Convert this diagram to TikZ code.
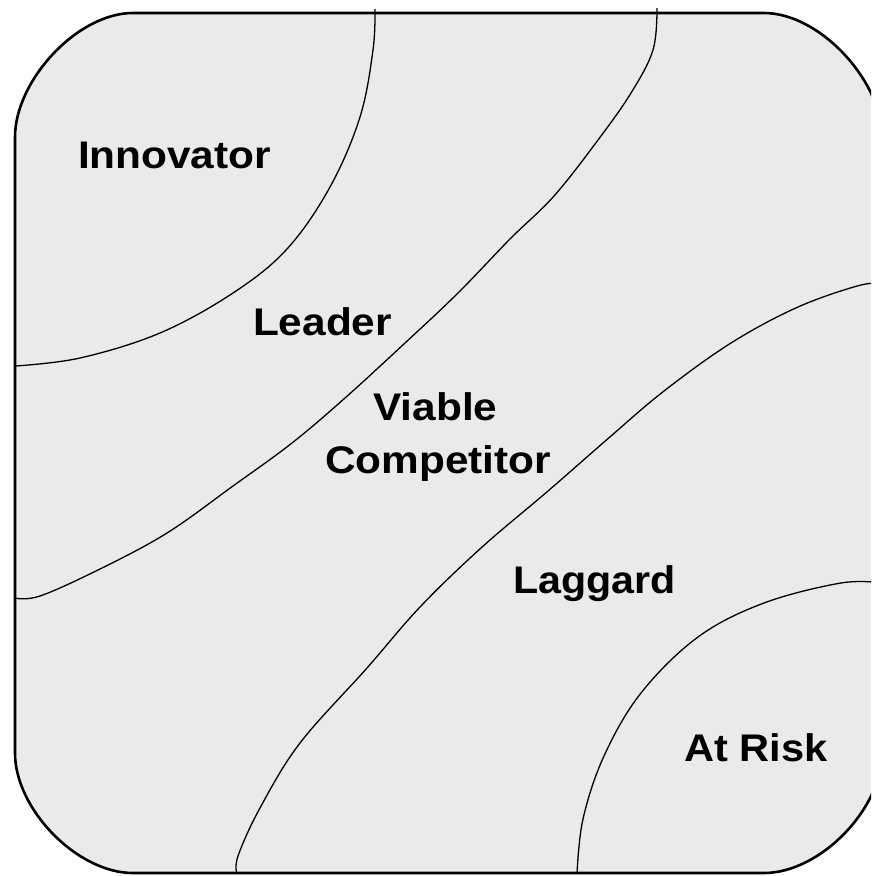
\documentclass[tikz,border=0pt]{standalone}
\usepackage{fontspec}
\setmainfont{Liberation Sans}
\begin{document}
\begin{tikzpicture}[x=1pt,y=-1pt,
  zone/.style={draw=black,line width=1.3pt,line join=round},
  framestyle/.style={draw=black,line width=2.6pt,fill=panelgray},
  label/.style={inner sep=0pt,anchor=base,font=\fontsize{38.5}{40}\selectfont\bfseries}]
\definecolor{panelgray}{RGB}{234,234,234}
\useasboundingbox (0,0) rectangle (871,876);
\clip (0,0) rectangle (871,876);
% rounded panel
\path[framestyle] (133,13) -- (764,13) .. controls (820,13) and (882,81) .. (882,137)
  -- (882,753) .. controls (882,809) and (820,873) .. (764,873)
  -- (133,873) .. controls (77,873) and (15,809) .. (15,753)
  -- (15,137) .. controls (15,81) and (77,13) .. (133,13) -- cycle;
% zone boundaries
\draw[zone] plot[smooth,tension=0.6] coordinates {(375,9) (373,50) (360,117) (330,187)
  (287,249) (233,293) (160,333) (80,358) (15,366)};
\draw[zone] plot[smooth,tension=0.6] coordinates {(657,8) (653,50) (631,93) (598,140)
  (554,196) (510,239) (458,293) (405,343) (345,398) (292,443) (233,486) (167,533)
  (100,569) (40,596) (15,598)};
\draw[zone] plot[smooth,tension=0.6] coordinates {(882,285) (861,285) (798,307) (731,343)
  (664,391) (611,436) (548,491) (481,548) (420,607) (367,668) (300,743) (260,808)
  (238,856) (237,874)};
\draw[zone] plot[smooth,tension=0.6] coordinates {(882,583) (841,583) (764,603) (698,637)
  (641,693) (604,756) (583,819) (577,874)};
% zone names
\node[label] (innovator) at (174.5,168) {\scalebox{1.1}[1]{Innovator}};
\node[label] (leader) at (322.5,335) {\scalebox{1.1}[1]{Leader}};
\node[label] (viable) at (435.5,420) {\scalebox{1.1}[1]{Viable}};
\node[label] (competitor) at (438,473) {\scalebox{1.1}[1]{Competitor}};
\node[label] (laggard) at (594.5,593) {\scalebox{1.07}[1]{Laggard}};
\node[label] (atrisk) at (756,761) {\scalebox{1.08}[1]{At Risk}};
\end{tikzpicture}
\end{document}
